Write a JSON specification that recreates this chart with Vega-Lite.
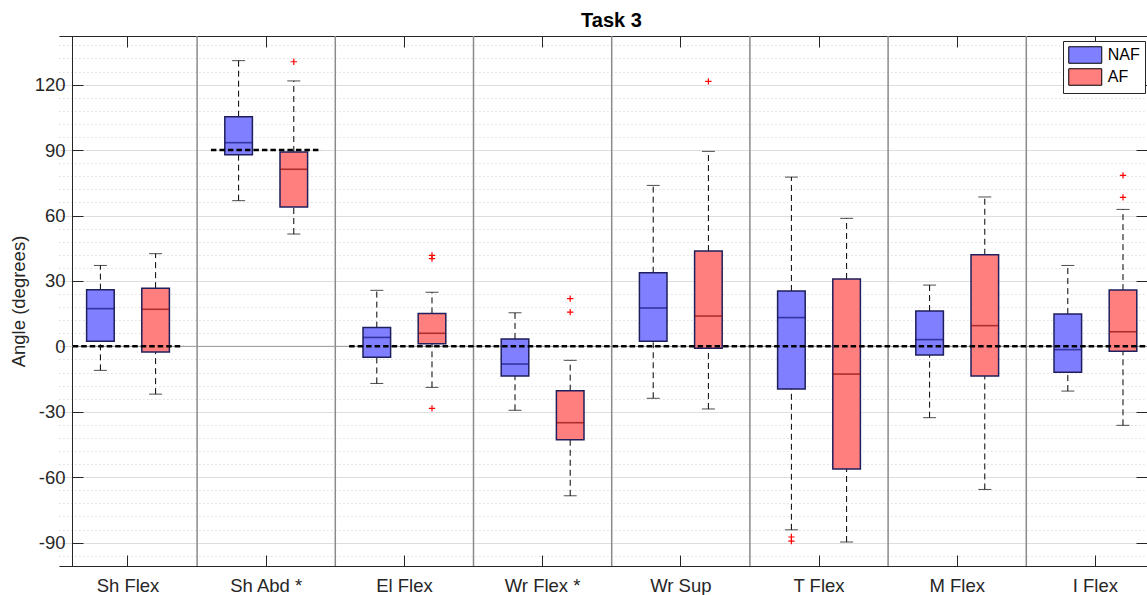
{
  "$schema": "https://vega.github.io/schema/vega-lite/v6.json",
  "width": 1075,
  "height": 530,
  "autosize": {"type": "none"},
  "padding": {"left": 72, "top": 36, "right": 0, "bottom": 29},
  "background": "white",
  "title": {"text": "Task 3", "font": "Liberation Sans", "fontSize": 20, "fontWeight": "bold", "color": "#000000", "anchor": "middle", "frame": "group", "baseline": "alphabetic", "offset": 9.5, "dx": 2, "dy": 21.5},
  "config": {
    "view": {"stroke": null},
    "font": "Liberation Sans",
    "axis": {"labelFont": "Liberation Sans", "titleFont": "Liberation Sans", "labelColor": "#262626", "titleColor": "#262626", "domainColor": "#262626", "tickColor": "#262626", "labelFontSize": 18.5, "titleFontSize": 18.5, "titleFontWeight": "normal"}
  },
  "datasets": {
    "groups": [
      {"group": "Sh Flex"}, {"group": "Sh Abd *"}, {"group": "El Flex"}, {"group": "Wr Flex *"},
      {"group": "Wr Sup"}, {"group": "T Flex"}, {"group": "M Flex"}
    ],
    "boxes": [
      {"group": "Sh Flex", "series": "NAF", "lo": -11.0, "q1": 2.3, "med": 17.3, "q3": 26.0, "hi": 37.1},
      {"group": "Sh Flex", "series": "AF", "lo": -21.9, "q1": -2.6, "med": 17.0, "q3": 26.7, "hi": 42.5},
      {"group": "Sh Abd *", "series": "NAF", "lo": 66.8, "q1": 87.9, "med": 93.4, "q3": 105.3, "hi": 131.0},
      {"group": "Sh Abd *", "series": "AF", "lo": 51.5, "q1": 63.9, "med": 81.2, "q3": 89.1, "hi": 121.7},
      {"group": "El Flex", "series": "NAF", "lo": -17.0, "q1": -5.0, "med": 4.1, "q3": 8.6, "hi": 25.7},
      {"group": "El Flex", "series": "AF", "lo": -18.8, "q1": 1.2, "med": 6.0, "q3": 15.1, "hi": 24.8},
      {"group": "Wr Flex *", "series": "NAF", "lo": -29.3, "q1": -13.6, "med": -8.1, "q3": 3.4, "hi": 15.4},
      {"group": "Wr Flex *", "series": "AF", "lo": -68.5, "q1": -42.8, "med": -35.0, "q3": -20.3, "hi": -6.4},
      {"group": "Wr Sup", "series": "NAF", "lo": -23.8, "q1": 2.3, "med": 17.6, "q3": 33.8, "hi": 73.8},
      {"group": "Wr Sup", "series": "AF", "lo": -28.7, "q1": -0.9, "med": 13.9, "q3": 43.7, "hi": 89.4},
      {"group": "T Flex", "series": "NAF", "lo": -84.1, "q1": -19.6, "med": 13.2, "q3": 25.4, "hi": 77.6},
      {"group": "T Flex", "series": "AF", "lo": -89.7, "q1": -56.2, "med": -12.7, "q3": 30.9, "hi": 58.7},
      {"group": "M Flex", "series": "NAF", "lo": -32.7, "q1": -4.0, "med": 3.1, "q3": 16.2, "hi": 28.1},
      {"group": "M Flex", "series": "AF", "lo": -65.6, "q1": -13.6, "med": 9.5, "q3": 42.0, "hi": 68.5},
      {"group": "I Flex", "series": "NAF", "lo": -20.5, "q1": -11.9, "med": -1.5, "q3": 14.8, "hi": 37.1},
      {"group": "I Flex", "series": "AF", "lo": -36.2, "q1": -2.2, "med": 6.7, "q3": 25.8, "hi": 62.8}
    ],
    "outliers": [
      {"group": "Sh Abd *", "series": "AF", "value": 130.5},
      {"group": "El Flex", "series": "AF", "value": 41.7},
      {"group": "El Flex", "series": "AF", "value": 40.2},
      {"group": "El Flex", "series": "AF", "value": -28.4},
      {"group": "Wr Flex *", "series": "AF", "value": 21.9},
      {"group": "Wr Flex *", "series": "AF", "value": 15.7},
      {"group": "Wr Sup", "series": "AF", "value": 121.5},
      {"group": "T Flex", "series": "NAF", "value": -87.4},
      {"group": "T Flex", "series": "NAF", "value": -89.3},
      {"group": "I Flex", "series": "AF", "value": 78.4},
      {"group": "I Flex", "series": "AF", "value": 68.3}
    ],
    "refs": [
      {"from": "Sh Flex", "to": "Sh Flex", "value": 0},
      {"from": "Sh Abd *", "to": "Sh Abd *", "value": 90},
      {"from": "El Flex", "to": "I Flex", "value": 0}
    ]
  },
  "resolve": {"axis": {"x": "independent", "y": "independent"}},
  "layer": [
    {
      "data": {"name": "groups"},
      "mark": {"type": "rule", "color": "#8a8a8a", "strokeWidth": 1.5},
      "encoding": {
        "x": {"field": "group", "type": "nominal", "bandPosition": 1,
          "scale": {"domain": ["Sh Flex", "Sh Abd *", "El Flex", "Wr Flex *", "Wr Sup", "T Flex", "M Flex", "I Flex"], "range": [-13.1, 1092.5], "paddingInner": 0, "paddingOuter": 0},
          "axis": {"orient": "top", "labels": false, "ticks": true, "tickSize": -11, "domain": true, "grid": false, "title": null}}
      }
    },
    {
      "data": {"values": [{}]},
      "mark": {"type": "rule", "color": "#9a9a9a", "strokeWidth": 1},
      "encoding": {
        "y": {"datum": 0, "type": "quantitative",
          "scale": {"domain": [-100.7, 142.3], "nice": false, "zero": false},
          "axis": {"orient": "right", "values": [-90, -60, -30, 0, 30, 60, 90, 120], "labels": false, "ticks": true, "tickSize": -11, "domain": false, "grid": false, "title": null}}
      }
    },
    {
      "data": {"name": "boxes"},
      "mark": {"type": "rule", "color": "#000000", "strokeWidth": 1, "strokeDash": [6, 4]},
      "encoding": {
        "x": {"field": "group", "type": "nominal",
          "axis": {"orient": "bottom", "title": null, "labelAngle": 0, "ticks": true, "tickSize": -11, "labelPadding": 21, "domain": true, "grid": false}},
        "xOffset": {"field": "series", "type": "nominal", "scale": {"domain": ["NAF", "AF"], "paddingInner": 0.5, "paddingOuter": 0.502}},
        "y": {"field": "lo", "type": "quantitative",
          "axis": {"orient": "left", "title": "Angle (degrees)", "titlePadding": 6,
            "values": [-96, -90, -84, -78, -72, -66, -60, -54, -48, -42, -36, -30, -24, -18, -12, -6, 0, 6, 12, 18, 24, 30, 36, 42, 48, 54, 60, 66, 72, 78, 84, 90, 96, 102, 108, 114, 120, 126, 132, 138],
            "labelExpr": "datum.value % 30 === 0 ? '' + datum.value : ''",
            "tickSize": -11, "labelPadding": 18, "domain": true, "grid": true,
            "tickOpacity": {"condition": {"test": "datum.value % 30 === 0", "value": 1}, "value": 0},
            "gridColor": {"condition": {"test": "datum.value % 30 === 0", "value": "#dedede"}, "value": "#cdcdcd"},
            "gridDash": {"condition": {"test": "datum.value % 30 === 0", "value": []}, "value": [1, 3]},
            "gridWidth": 1}},
        "y2": {"field": "q1"}
      }
    },
    {
      "data": {"name": "boxes"},
      "mark": {"type": "rule", "color": "#000000", "strokeWidth": 1, "strokeDash": [6, 4]},
      "encoding": {
        "x": {"field": "group", "type": "nominal", "axis": null},
        "xOffset": {"field": "series", "type": "nominal", "scale": {"domain": ["NAF", "AF"], "paddingInner": 0.5, "paddingOuter": 0.502}},
        "y": {"field": "q3", "type": "quantitative", "axis": null},
        "y2": {"field": "hi"}
      }
    },
    {
      "data": {"name": "boxes"},
      "mark": {"type": "tick", "color": "#000000", "thickness": 1, "size": 13, "orient": "horizontal"},
      "encoding": {
        "x": {"field": "group", "type": "nominal", "axis": null},
        "xOffset": {"field": "series", "type": "nominal", "scale": {"domain": ["NAF", "AF"], "paddingInner": 0.5, "paddingOuter": 0.502}},
        "y": {"field": "lo", "type": "quantitative", "axis": null}
      }
    },
    {
      "data": {"name": "boxes"},
      "mark": {"type": "tick", "color": "#000000", "thickness": 1, "size": 13, "orient": "horizontal"},
      "encoding": {
        "x": {"field": "group", "type": "nominal", "axis": null},
        "xOffset": {"field": "series", "type": "nominal", "scale": {"domain": ["NAF", "AF"], "paddingInner": 0.5, "paddingOuter": 0.502}},
        "y": {"field": "hi", "type": "quantitative", "axis": null}
      }
    },
    {
      "data": {"name": "boxes"},
      "mark": {"type": "bar", "stroke": "#1f1f5e", "strokeWidth": 1.5, "opacity": 1},
      "encoding": {
        "x": {"field": "group", "type": "nominal", "axis": null},
        "xOffset": {"field": "series", "type": "nominal", "scale": {"domain": ["NAF", "AF"], "paddingInner": 0.5, "paddingOuter": 0.502}},
        "y": {"field": "q1", "type": "quantitative", "axis": null},
        "y2": {"field": "q3"},
        "color": {"field": "series", "type": "nominal",
          "scale": {"domain": ["NAF", "AF"], "range": ["#7f7fff", "#ff7f7f"]},
          "legend": {"orient": "none", "legendX": 991, "legendY": 5, "title": null, "direction": "vertical",
            "symbolType": "M-2,-1H2V1H-2Z", "symbolSize": 272.25, "symbolOffset": 8.25, "symbolStrokeColor": "#000000", "symbolStrokeWidth": 1, "symbolOpacity": 1,
            "labelFont": "Liberation Sans", "labelFontSize": 16, "labelColor": "#000000", "labelOffset": 13.5,
            "padding": 5, "rowPadding": 0, "strokeColor": "#262626", "fillColor": "#ffffff", "cornerRadius": 0}}
      }
    },
    {
      "data": {"name": "boxes"},
      "mark": {"type": "tick", "thickness": 1.6, "size": 27.6, "orient": "horizontal"},
      "encoding": {
        "x": {"field": "group", "type": "nominal", "axis": null},
        "xOffset": {"field": "series", "type": "nominal", "scale": {"domain": ["NAF", "AF"], "paddingInner": 0.5, "paddingOuter": 0.502}},
        "y": {"field": "med", "type": "quantitative", "axis": null},
        "color": {"condition": {"test": "datum.series === 'NAF'", "value": "#14147a"}, "value": "#8a0c0c"}
      }
    },
    {
      "data": {"name": "refs"},
      "mark": {"type": "rule", "color": "#000000", "strokeWidth": 2.5, "strokeDash": [5.5, 3]},
      "encoding": {
        "x": {"field": "from", "type": "nominal", "bandPosition": 0.1, "axis": null},
        "x2": {"field": "to", "bandPosition": 0.9},
        "y": {"field": "value", "type": "quantitative", "axis": null}
      }
    },
    {
      "data": {"name": "outliers"},
      "mark": {"type": "point", "shape": "M-1,0H1M0,-1V1", "filled": false, "stroke": "#ff0000", "strokeWidth": 1.2, "size": 40, "opacity": 1},
      "encoding": {
        "x": {"field": "group", "type": "nominal", "axis": null},
        "xOffset": {"field": "series", "type": "nominal", "scale": {"domain": ["NAF", "AF"], "paddingInner": 0.5, "paddingOuter": 0.502}},
        "y": {"field": "value", "type": "quantitative", "axis": null}
      }
    }
  ]
}
